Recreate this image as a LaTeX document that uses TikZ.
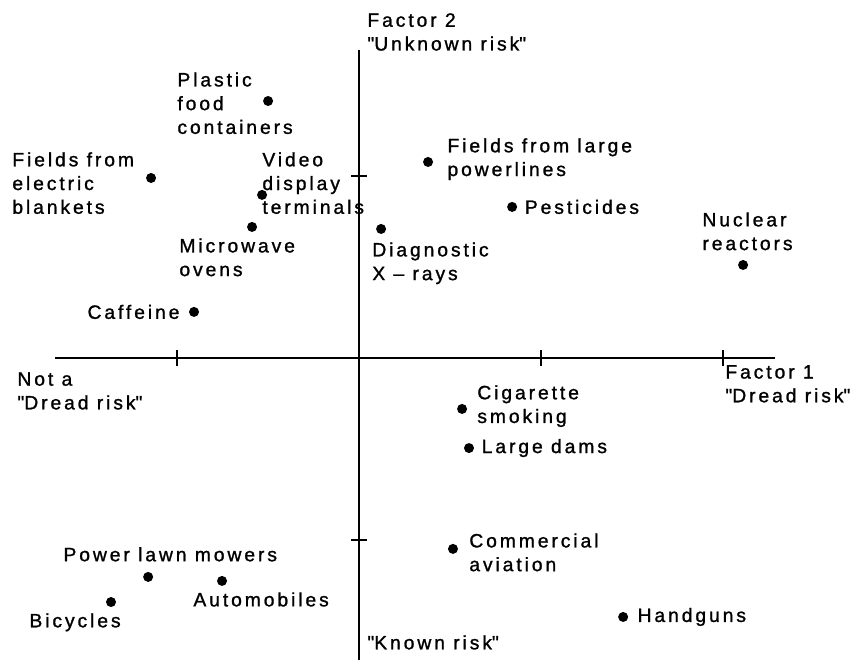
\documentclass[tikz,border=0pt]{standalone}
\usepackage{fontspec}
\setmainfont{Liberation Sans}[LetterSpace=15,FakeBold=1.2]
\usetikzlibrary{positioning}
\newcommand{\qt}{\textquotedbl}
\begin{document}
\begin{tikzpicture}[x=3.64cm,y=3.64cm,
  riskdot/.style={circle,fill,inner sep=0pt,minimum size=5.7pt},
  lbl/.style={inner sep=0pt,align=left,font=\fontsize{11}{13.5}\selectfont},
  axis/.style={line width=1.2pt}]
\useasboundingbox (-1.973,-1.659) rectangle (2.747,1.967);
\pgfmathsetmacro{\tk}{0.045}
%
\coordinate (xl) at (-1.670,0);
\coordinate (xr) at (2.286,0);
\coordinate (yt) at (0,1.692);
\coordinate (yb) at (0,-1.659);
\draw[axis](xl)--(xr);
\draw[axis](yb)--(yt);
\foreach \x in {-1,1,2}{\draw[line width=0.8pt](\x,-\tk)--(\x,\tk);}
\foreach \y in {-1,1}{\draw[line width=0.8pt](-\tk,\y)--(\tk,\y);}
\node[lbl,anchor=north west] (f2) at (0.044,1.896) {Factor 2\\\qt Unknown risk\qt};
\node[lbl,anchor=north west] (known) at (0.044,-1.522) {\qt Known risk\qt};
\node[lbl,anchor=north west] (f1) at (2.011,-0.038) {Factor 1\\\qt Dread risk\qt};
\node[lbl,anchor=north west] (notdread) at (-1.879,-0.077) {Not a\\\qt Dread risk\qt};
%
\foreach \n/\x/\y in {plastic/-0.500/1.412,blankets/-1.143/0.989,vdt/-0.533/0.896,
  microwave/-0.588/0.720,caffeine/-0.907/0.253,xrays/0.121/0.709,
  powerlines/0.379/1.077,pesticides/0.841/0.830,nuclear/2.110/0.511,
  cigarette/0.566/-0.280,dams/0.604/-0.495,aviation/0.516/-1.049,
  handguns/1.451/-1.423,mowers/-1.159/-1.203,cars/-0.753/-1.225,
  bicycles/-1.363/-1.341}
  {\node[riskdot](\n) at (\x,\y){};}
%
\node[lbl,anchor=north west] (plasticL) at (-1.000,1.571) {Plastic\\food\\containers};
\node[lbl,anchor=north west] (blanketsL) at (-1.907,1.132) {Fields from\\electric\\blankets};
\node[lbl,anchor=north west] (vdtL) at (-0.533,1.132) {Video\\display\\terminals};
\node[lbl,anchor=north west] (microwaveL) at (-0.989,0.659) {Microwave\\ovens};
\node[lbl,left=5pt of caffeine] (caffeineL) {Caffeine};
\node[lbl,anchor=north west] (xraysL) at (0.071,0.637) {Diagnostic\\X -- rays};
\node[lbl,anchor=north west] (powerlinesL) at (0.484,1.209) {Fields from large\\powerlines};
\node[lbl,right=4pt of pesticides] (pesticidesL) {Pesticides};
\node[lbl,anchor=north west] (nuclearL) at (1.885,0.802) {Nuclear\\reactors};
\node[lbl,anchor=north west] (cigaretteL) at (0.648,-0.148) {Cigarette\\smoking};
\node[lbl,right=4pt of dams] (damsL) {Large dams};
\node[lbl,anchor=north west] (aviationL) at (0.604,-0.962) {Commercial\\aviation};
\node[lbl,right=5pt of handguns] (handgunsL) {Handguns};
\node[lbl,anchor=north west] (mowersL) at (-1.626,-1.038) {Power lawn mowers};
\node[lbl,anchor=north west] (carsL) at (-0.912,-1.286) {Automobiles};
\node[lbl,anchor=north west] (bicyclesL) at (-1.813,-1.401) {Bicycles};
\end{tikzpicture}
\end{document}
